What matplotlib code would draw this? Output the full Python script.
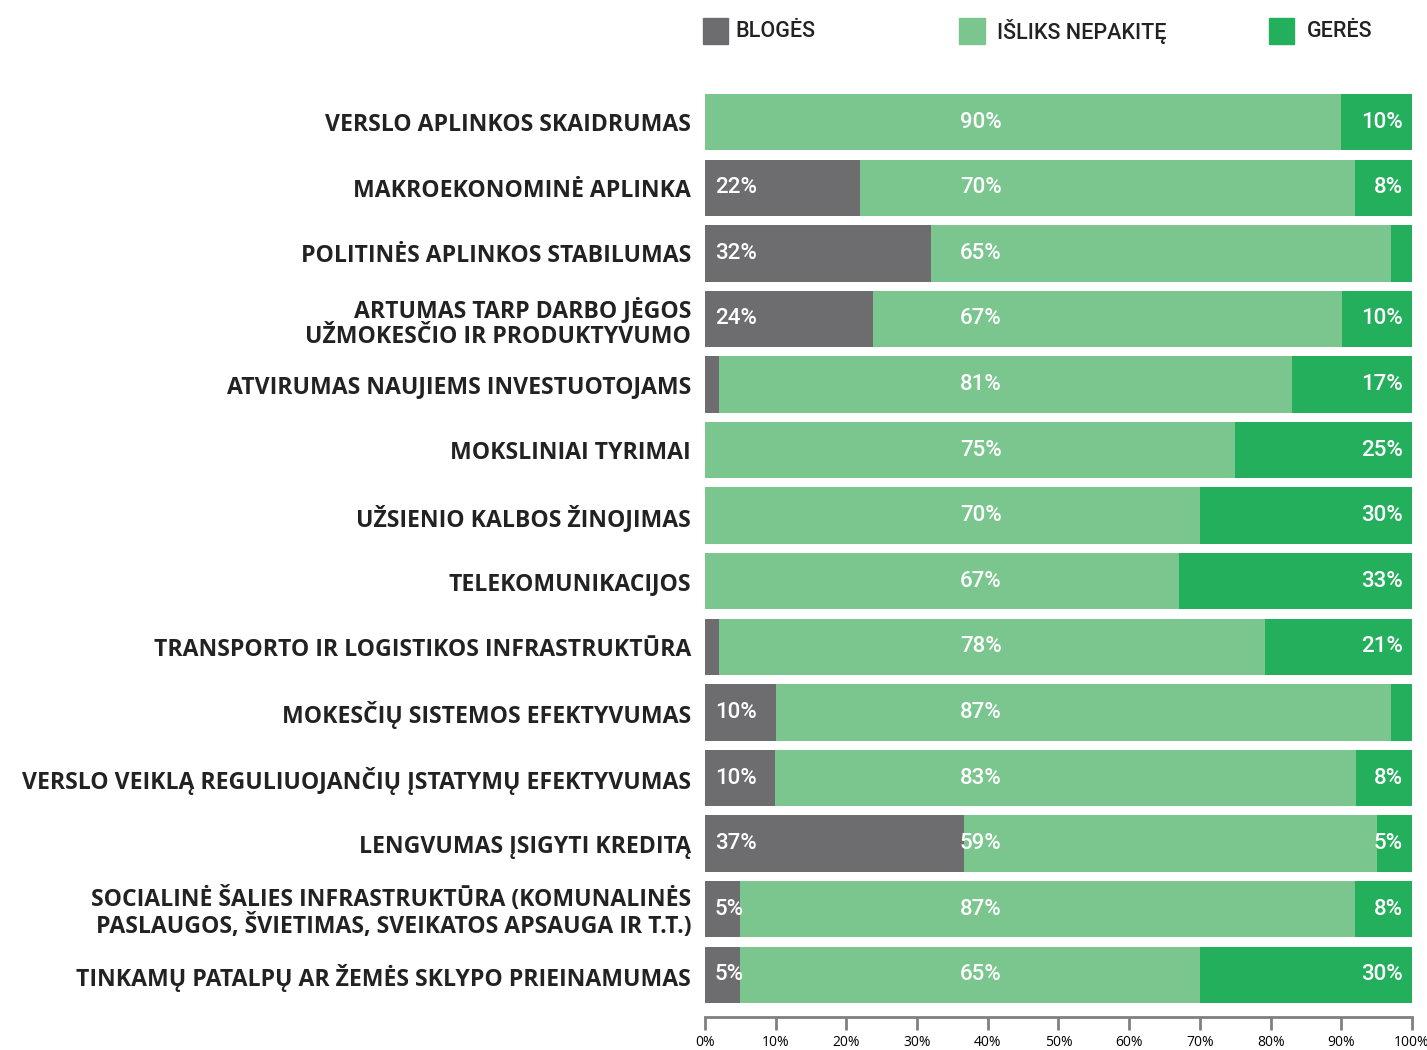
import matplotlib
matplotlib.use("Agg")
import matplotlib.pyplot as plt
import numpy as np

# ---- data ----
kategorijos = [
    "VERSLO APLINKOS SKAIDRUMAS",
    "MAKROEKONOMINĖ APLINKA",
    "POLITINĖS APLINKOS STABILUMAS",
    "ARTUMAS TARP DARBO JĖGOS\nUŽMOKESČIO IR PRODUKTYVUMO",
    "ATVIRUMAS NAUJIEMS INVESTUOTOJAMS",
    "MOKSLINIAI TYRIMAI",
    "UŽSIENIO KALBOS ŽINOJIMAS",
    "TELEKOMUNIKACIJOS",
    "TRANSPORTO IR LOGISTIKOS INFRASTRUKTŪRA",
    "MOKESČIŲ SISTEMOS EFEKTYVUMAS",
    "VERSLO VEIKLĄ REGULIUOJANČIŲ ĮSTATYMŲ EFEKTYVUMAS",
    "LENGVUMAS ĮSIGYTI KREDITĄ",
    "SOCIALINĖ ŠALIES INFRASTRUKTŪRA (KOMUNALINĖS\nPASLAUGOS, ŠVIETIMAS, SVEIKATOS APSAUGA IR T.T.)",
    "TINKAMŲ PATALPŲ AR ŽEMĖS SKLYPO PRIEINAMUMAS",
]
blogės = [0, 22, 32, 24, 2, 0, 0, 0, 2, 10, 10, 37, 5, 5]
nepakitę = [90, 70, 65, 67, 81, 75, 70, 67, 78, 87, 83, 59, 87, 65]
gerės = [10, 8, 3, 10, 17, 25, 30, 33, 21, 3, 8, 5, 8, 30]
serijos = ["BLOGĖS", "IŠLIKS NEPAKITĘ", "GERĖS"]
spalvos = ["#6d6d6f", "#7bc68e", "#23af5c"]

plt.rcParams['font.family'] = ['Open Sans', 'DejaVu Sans']
skaic_font = ['Roboto', 'DejaVu Sans']

fig = plt.figure(figsize=(14.27, 10.5), dpi=100)
ax = fig.add_axes([0.494, 0.0448, 0.4955, 0.8657])

reiksmes = np.array([blogės, nepakitę, gerės], dtype=float)
# rounding makes some rows sum to 101, scale every row to 100
dalys = reiksmes / reiksmes.sum(axis=0) * 100
y = np.arange(len(kategorijos))

kaire = np.zeros(len(kategorijos))
for i in range(3):
    ax.barh(y, dalys[i], left=kaire, height=0.86, color=spalvos[i], linewidth=0)
    kaire += dalys[i]

# value labels
for j in range(len(kategorijos)):
    if blogės[j] >= 5:
        ax.text(1.4, y[j], f"{blogės[j]}%", color="white", fontsize=16,
                family=skaic_font, fontweight="medium", ha="left", va="center")
    ax.text(39, y[j], f"{nepakitę[j]}%", color="white", fontsize=16,
            family=skaic_font, fontweight="medium", ha="center", va="center")
    if gerės[j] >= 5:
        ax.text(98.7, y[j], f"{gerės[j]}%", color="white", fontsize=16,
                family=skaic_font, fontweight="medium", ha="right", va="center")

ax.set_xlim(0, 100)
ax.set_ylim(len(kategorijos) - 1 + 0.43, -0.43)
ax.set_yticks(y)
ax.set_yticklabels(kategorijos, fontsize=16.6, fontweight="bold", color="#222222",
                   linespacing=1.1)
ax.tick_params(axis="y", length=0, pad=10)

ax.set_xticks(np.arange(0, 101, 10))
ax.set_xticklabels([f"{v}%" for v in range(0, 101, 10)], family=skaic_font,
                   fontsize=9.5, fontweight="bold", color="#222222")
ax.tick_params(axis="x", direction="out", length=9, width=2, color="#808080", pad=4)
for s in ["top", "right", "left"]:
    ax.spines[s].set_visible(False)
ax.spines["bottom"].set_color("#808080")
ax.spines["bottom"].set_linewidth(2)
ax.spines["bottom"].set_position(("outward", 10))

# legend
leg_x = [0.4925, 0.672, 0.889]
leg_tx = [0.515, 0.6987, 0.9159]
for k in range(3):
    fig.patches.append(plt.Rectangle((leg_x[k], 0.958), 0.018, 0.025,
                                     transform=fig.transFigure, color=spalvos[k]))
    fig.text(leg_tx[k], 0.970, serijos[k], family=skaic_font, fontsize=15.5,
             fontweight="medium", color="#222222", va="center", ha="left")

fig.savefig("out.png", dpi=100)
